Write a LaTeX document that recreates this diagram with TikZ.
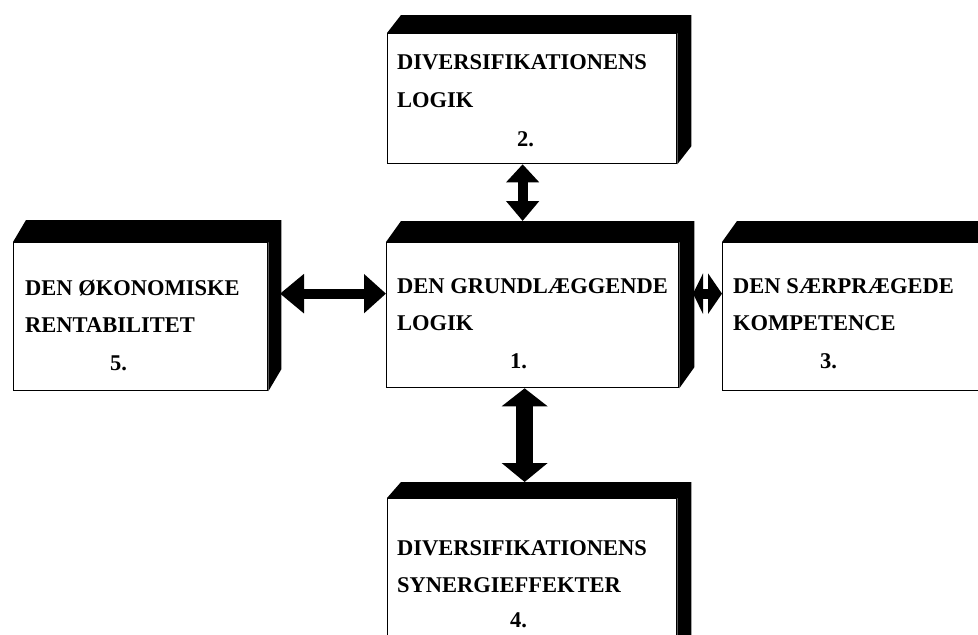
\documentclass[tikz,border=0pt]{standalone}
\usepackage{fontspec}
\setmainfont{Liberation Serif}
\usetikzlibrary{arrows.meta}
\begin{document}
\begin{tikzpicture}[x=1pt,y=-1pt,
  front/.style={draw=black,line width=1.3pt,fill=white,inner sep=0pt,anchor=north west},
  slab/.style={fill=black},
  lbl/.style={anchor=base west,inner sep=0pt,font=\fontsize{22.5}{27}\selectfont\bfseries},
  arrT/.style={line width=10pt,{Triangle[length=18pt,width=32pt]}-{Triangle[length=20pt,width=32pt]}},
  arrB/.style={line width=17pt,{Triangle[length=18pt,width=45pt]}-{Triangle[length=19pt,width=45pt]}},
  arrL/.style={line width=10pt,{Triangle[length=22pt,width=38pt]}-{Triangle[length=24pt,width=38pt]}},
  arrR/.style={line width=10pt,{Triangle[length=14pt,width=40pt]}-{Triangle[length=10pt,width=40pt]}}
]
\useasboundingbox (0,0) rectangle (978,635);
\clip (0,0) rectangle (978,635);
\fill[white] (0,0) rectangle (978,635);

% box 2 (top)
\node[front,minimum width=289pt,minimum height=130pt] (b2) at (387,33) {};
\fill[slab] (b2.north west) -- ++(14,-18) -- ([shift={(14pt,18pt)}]b2.north east) -- ([shift={(14pt,18pt)}]b2.south east) -- (b2.south east) -- (b2.north east) -- cycle;
% box 1 (centre)
\node[front,minimum width=292pt,minimum height=145pt] (b1) at (386,242) {};
\fill[slab] (b1.north west) -- ++(15,-21) -- ([shift={(15pt,21pt)}]b1.north east) -- ([shift={(15pt,21pt)}]b1.south east) -- (b1.south east) -- (b1.north east) -- cycle;
% box 3 (right)
\node[front,minimum width=300pt,minimum height=148pt] (b3) at (722,242) {};
\fill[slab] (b3.north west) -- ++(15,-21) -- ([shift={(15pt,21pt)}]b3.north east) -- ([shift={(15pt,21pt)}]b3.south east) -- (b3.south east) -- (b3.north east) -- cycle;
% box 5 (left)
\node[front,minimum width=254pt,minimum height=148pt] (b5) at (13,242) {};
\fill[slab] (b5.north west) -- ++(13,-22) -- ([shift={(13pt,22pt)}]b5.north east) -- ([shift={(13pt,22pt)}]b5.south east) -- (b5.south east) -- (b5.north east) -- cycle;
% box 4 (bottom)
\node[front,minimum width=289pt,minimum height=200pt] (b4) at (387,498) {};
\fill[slab] (b4.north west) -- ++(14,-16) -- ([shift={(14pt,16pt)}]b4.north east) -- ([shift={(14pt,16pt)}]b4.south east) -- (b4.south east) -- (b4.north east) -- cycle;

% slab reference points
\coordinate (b1t) at (401,221);
\coordinate (b4t) at (401,482);
\coordinate (b5r) at (280,242);
\coordinate (b1r) at (693,242);

% texts
\node[lbl] (t2a) at (397,69) {DIVERSIFIKATIONENS};
\node[lbl] (t2b) at (397,107) {LOGIK};
\node[lbl] (t2c) at (517,146) {2.};
\node[lbl] (t1a) at (397,293) {DEN GRUNDLÆGGENDE};
\node[lbl] (t1b) at (397,330) {LOGIK};
\node[lbl] (t1c) at (510,368) {1.};
\node[lbl] (t3a) at (733,293) {DEN SÆRPRÆGEDE};
\node[lbl] (t3b) at (733,330) {KOMPETENCE};
\node[lbl] (t3c) at (820,368) {3.};
\node[lbl] (t5a) at (25,295) {DEN ØKONOMISKE};
\node[lbl] (t5b) at (25,332) {RENTABILITET};
\node[lbl] (t5c) at (110,370) {5.};
\node[lbl] (t4a) at (397,555) {DIVERSIFIKATIONENS};
\node[lbl] (t4b) at (397,592) {SYNERGIEFFEKTER};
\node[lbl] (t4c) at (510,627) {4.};

% connectors
\draw[arrT] ([xshift=-9.5pt]b2.south) -- ([xshift=-9.5pt]b2.south |- b1t);
\draw[arrB] ([xshift=-8pt]b1.south) -- ([xshift=-8pt]b1.south |- b4t);
\draw[arrL] ([yshift=21.5pt]b1.west) -- ([yshift=21.5pt]b1.west -| b5r);
\draw[arrR] ([yshift=23pt]b3.west) -- ([yshift=23pt]b3.west -| b1r);
\end{tikzpicture}
\end{document}
